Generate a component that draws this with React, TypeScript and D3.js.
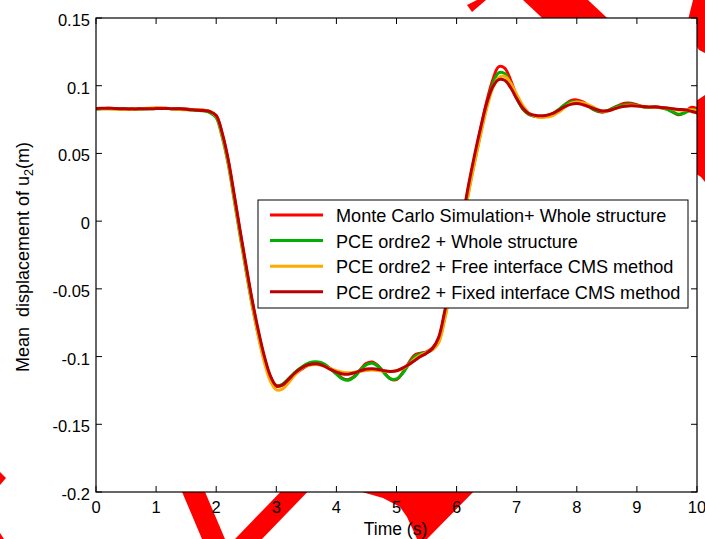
import React from 'react';
import * as d3 from 'd3';

const time = [
  0.0, 0.1, 0.2, 0.3, 0.4, 0.5, 0.6, 0.7, 0.8, 0.9,
  1.0, 1.1, 1.2, 1.3, 1.4, 1.5, 1.6, 1.7, 1.8, 1.9,
  2.0, 2.1, 2.2, 2.3, 2.4, 2.5, 2.6, 2.7, 2.8, 2.9,
  3.0, 3.1, 3.2, 3.3, 3.4, 3.5, 3.6, 3.7, 3.8, 3.9,
  4.0, 4.1, 4.2, 4.3, 4.4, 4.5, 4.6, 4.7, 4.8, 4.9,
  5.0, 5.1, 5.2, 5.3, 5.4, 5.5, 5.6, 5.7, 5.8, 5.9,
  6.0, 6.1, 6.2, 6.3, 6.4, 6.5, 6.6, 6.7, 6.8, 6.9,
  7.0, 7.1, 7.2, 7.3, 7.4, 7.5, 7.6, 7.7, 7.8, 7.9,
  8.0, 8.1, 8.2, 8.3, 8.4, 8.5, 8.6, 8.7, 8.8, 8.9,
  9.0, 9.1, 9.2, 9.3, 9.4, 9.5, 9.6, 9.7, 9.8, 9.9,
  10.0,
];

const monteCarlo = [
  0.0830, 0.0831, 0.0833, 0.0832, 0.0830, 0.0828, 0.0828, 0.0829, 0.0830, 0.0831,
  0.0833, 0.0834, 0.0832, 0.0830, 0.0830, 0.0828, 0.0824, 0.0823, 0.0819, 0.0809,
  0.0778, 0.0642, 0.0442, 0.0180, -0.0090, -0.0350, -0.0600, -0.0820, -0.1010, -0.1150,
  -0.1220, -0.1210, -0.1170, -0.1130, -0.1100, -0.1070, -0.1055, -0.1050, -0.1060, -0.1090,
  -0.1125, -0.1160, -0.1170, -0.1145, -0.1095, -0.1050, -0.1040, -0.1070, -0.1120, -0.1165,
  -0.1170, -0.1120, -0.1050, -0.0990, -0.0975, -0.0965, -0.0935, -0.0870, -0.0690, -0.0470,
  -0.0240, 0.0000, 0.0250, 0.0470, 0.0680, 0.0880, 0.1040, 0.1140, 0.1130, 0.1040,
  0.0920, 0.0830, 0.0790, 0.0775, 0.0770, 0.0775, 0.0790, 0.0820, 0.0860, 0.0890,
  0.0895, 0.0880, 0.0850, 0.0820, 0.0805, 0.0810, 0.0835, 0.0855, 0.0870, 0.0870,
  0.0860, 0.0845, 0.0840, 0.0845, 0.0840, 0.0830, 0.0805, 0.0785, 0.0805, 0.0840,
  0.0830,
];

const pceWhole = [
  0.0828, 0.0829, 0.0830, 0.0830, 0.0829, 0.0828, 0.0827, 0.0828, 0.0829, 0.0830,
  0.0831, 0.0832, 0.0831, 0.0829, 0.0828, 0.0825, 0.0820, 0.0818, 0.0813, 0.0800,
  0.0765, 0.0620, 0.0420, 0.0155, -0.0115, -0.0375, -0.0625, -0.0840, -0.1025, -0.1160,
  -0.1215, -0.1205, -0.1165, -0.1120, -0.1085, -0.1055, -0.1040, -0.1040, -0.1055, -0.1090,
  -0.1130, -0.1165, -0.1175, -0.1150, -0.1100, -0.1060, -0.1050, -0.1075, -0.1125, -0.1165,
  -0.1165, -0.1125, -0.1060, -0.1000, -0.0980, -0.0970, -0.0945, -0.0890, -0.0720, -0.0500,
  -0.0270, -0.0030, 0.0220, 0.0440, 0.0650, 0.0850, 0.1010, 0.1095, 0.1090, 0.1010,
  0.0905, 0.0830, 0.0790, 0.0775, 0.0772, 0.0778, 0.0795, 0.0825, 0.0860, 0.0880,
  0.0880, 0.0870, 0.0845, 0.0820, 0.0810, 0.0815, 0.0835, 0.0850, 0.0860, 0.0862,
  0.0855, 0.0845, 0.0840, 0.0842, 0.0838, 0.0825, 0.0805, 0.0790, 0.0800, 0.0820,
  0.0825,
];

const pceFree = [
  0.0830, 0.0830, 0.0830, 0.0828, 0.0826, 0.0824, 0.0825, 0.0828, 0.0832, 0.0836,
  0.0838, 0.0836, 0.0832, 0.0828, 0.0824, 0.0822, 0.0822, 0.0822, 0.0818, 0.0808,
  0.0775, 0.0635, 0.0435, 0.0170, -0.0100, -0.0365, -0.0620, -0.0845, -0.1040, -0.1180,
  -0.1245, -0.1240, -0.1195, -0.1140, -0.1095, -0.1070, -0.1060, -0.1060, -0.1070, -0.1090,
  -0.1105, -0.1115, -0.1120, -0.1115, -0.1108, -0.1102, -0.1100, -0.1102, -0.1108, -0.1110,
  -0.1105, -0.1090, -0.1060, -0.1020, -0.0990, -0.0970, -0.0950, -0.0900, -0.0730, -0.0510,
  -0.0280, -0.0040, 0.0210, 0.0430, 0.0640, 0.0830, 0.0980, 0.1060, 0.1070, 0.1020,
  0.0935, 0.0855, 0.0800, 0.0775, 0.0765, 0.0768, 0.0780, 0.0805, 0.0840, 0.0870,
  0.0880, 0.0875, 0.0858, 0.0835, 0.0815, 0.0812, 0.0825, 0.0840, 0.0850, 0.0855,
  0.0852, 0.0848, 0.0842, 0.0840, 0.0838, 0.0835, 0.0828, 0.0820, 0.0820, 0.0822,
  0.0815,
];

const pceFixed = [
  0.0832, 0.0834, 0.0834, 0.0832, 0.0830, 0.0829, 0.0829, 0.0829, 0.0830, 0.0830,
  0.0831, 0.0832, 0.0831, 0.0830, 0.0829, 0.0826, 0.0822, 0.0818, 0.0817, 0.0808,
  0.0780, 0.0650, 0.0455, 0.0195, -0.0075, -0.0335, -0.0585, -0.0805, -0.0995, -0.1140,
  -0.1215, -0.1210, -0.1170, -0.1125, -0.1090, -0.1065, -0.1055, -0.1055, -0.1070, -0.1095,
  -0.1115, -0.1128, -0.1130, -0.1120, -0.1105, -0.1092, -0.1090, -0.1095, -0.1105, -0.1110,
  -0.1105, -0.1085, -0.1060, -0.1030, -0.1000, -0.0975, -0.0940, -0.0860, -0.0670, -0.0450,
  -0.0220, 0.0020, 0.0270, 0.0490, 0.0690, 0.0870, 0.0990, 0.1045, 0.1040, 0.0985,
  0.0905, 0.0835, 0.0795, 0.0782, 0.0778, 0.0782, 0.0795, 0.0820, 0.0845, 0.0862,
  0.0868, 0.0860, 0.0845, 0.0828, 0.0815, 0.0815, 0.0825, 0.0840, 0.0848, 0.0852,
  0.0850, 0.0846, 0.0843, 0.0842, 0.0840, 0.0836, 0.0830, 0.0825, 0.0822, 0.0812,
  0.0800,
];

const seriesNames = [
  'Monte Carlo Simulation+ Whole structure',
  'PCE ordre2 + Whole structure',
  'PCE ordre2 + Free interface CMS method',
  'PCE ordre2 + Fixed interface CMS method',
];
const seriesValues = [monteCarlo, pceWhole, pceFree, pceFixed];
const seriesColors = ['#ff0000', '#00b000', '#ffaa00', '#bb0000'];

const xTicks = [0, 1, 2, 3, 4, 5, 6, 7, 8, 9, 10];
const yTicks = [0.15, 0.1, 0.05, 0, -0.05, -0.1, -0.15, -0.2];
const yTickLabels = ['0.15', '0.1', '0.05', '0', '-0.05', '-0.1', '-0.15', '-0.2'];

// decorative red strokes that sit behind the axes in the picture
const overlayShapes: [number, number][][] = [
  [[467, 5], [472, 12], [486, 0], [477, 0]],
  [[523, 0], [588, 0], [620, 30], [555, 30]],
  [[693, 0], [705, 0], [705, 53], [699, 50], [686, 28]],
  [[690, 105], [705, 95], [705, 182], [701, 177], [690, 170]],
  [[177, 480], [200, 480], [225, 539], [202, 539]],
  [[292, 480], [319, 480], [262, 539], [235, 539]],
  [[350, 485], [485, 480], [427, 539], [417, 539], [413, 530], [407, 517], [400, 507], [383, 498], [362, 492]],
  [[0, 472], [6, 478], [0, 485]],
  [[0, 533], [4, 539], [0, 539]],
];

const W = 705;
const H = 539;
const plot = { left: 96, right: 697, top: 18, bottom: 492 };
const FONT = '"Liberation Sans", Arial, Helvetica, sans-serif';

export default function App() {
  const x = d3.scaleLinear().domain([0, 10]).range([plot.left, plot.right]);
  const y = d3.scaleLinear().domain([-0.2, 0.15]).range([plot.bottom, plot.top]);
  const line = d3
    .line<number>()
    .x((_, i) => x(time[i]))
    .y((d) => y(d))
    .curve(d3.curveCatmullRom.alpha(0.5));

  const tickLen = 6;
  const legend = { left: 258, right: 688, top: 200, bottom: 308 };
  const legendRow0 = 215;
  const legendStep = 25.6;

  return (
    <svg
      width={W}
      height={H}
      viewBox={`0 0 ${W} ${H}`}
      style={{ position: 'absolute', left: 0, top: 0, background: '#fff' }}
      fontFamily={FONT}
    >
      <rect x={0} y={0} width={W} height={H} fill="#fff" />
      {overlayShapes.map((pts, i) => (
        <polygon key={i} points={pts.map((p) => p.join(',')).join(' ')} fill="#ff0000" />
      ))}
      <rect
        x={plot.left}
        y={plot.top}
        width={plot.right - plot.left}
        height={plot.bottom - plot.top}
        fill="#fff"
      />
      <defs>
        <clipPath id="plotclip">
          <rect
            x={plot.left}
            y={plot.top}
            width={plot.right - plot.left}
            height={plot.bottom - plot.top}
          />
        </clipPath>
      </defs>
      <g clipPath="url(#plotclip)">
        {seriesValues.map((vals, i) => (
          <path
            key={i}
            d={line(vals) || ''}
            fill="none"
            stroke={seriesColors[i]}
            strokeWidth={3}
            strokeLinejoin="round"
            strokeLinecap="round"
          />
        ))}
      </g>
      {/* ticks */}
      <g stroke="#000" strokeWidth={1}>
        {xTicks.map((t) => (
          <g key={'xt' + t}>
            <line x1={x(t)} x2={x(t)} y1={plot.bottom} y2={plot.bottom - tickLen} />
            <line x1={x(t)} x2={x(t)} y1={plot.top} y2={plot.top + tickLen} />
          </g>
        ))}
        {yTicks.map((t) => (
          <g key={'yt' + t}>
            <line x1={plot.left} x2={plot.left + tickLen} y1={y(t)} y2={y(t)} />
            <line x1={plot.right} x2={plot.right - tickLen} y1={y(t)} y2={y(t)} />
          </g>
        ))}
      </g>
      <rect
        x={plot.left}
        y={plot.top}
        width={plot.right - plot.left}
        height={plot.bottom - plot.top}
        fill="none"
        stroke="#000"
        strokeWidth={1.2}
      />
      {/* tick labels */}
      <g fontSize={16.5} fill="#000">
        {xTicks.map((t) => (
          <text key={'xl' + t} x={x(t)} y={plot.bottom + 21} textAnchor="middle">
            {String(t)}
          </text>
        ))}
        {yTicks.map((t, i) => (
          <text key={'yl' + t} x={plot.left - 6} y={y(t) + 8} textAnchor="end">
            {yTickLabels[i]}
          </text>
        ))}
      </g>
      {/* axis titles */}
      <text x={(plot.left + plot.right) / 2 - 1} y={535} textAnchor="middle" fontSize={17.5} fill="#000">
        Time (s)
      </text>
      <text
        transform={`translate(28.5, ${(plot.top + plot.bottom) / 2 + 2}) rotate(-90)`}
        textAnchor="middle"
        fontSize={18}
        fill="#000"
        xmlSpace="preserve"
      >
        Mean  displacement of u
        <tspan fontSize={12.5} dy={4}>2</tspan>
        <tspan dy={-4}>(m)</tspan>
      </text>
      {/* legend */}
      <rect
        x={legend.left}
        y={legend.top}
        width={legend.right - legend.left}
        height={legend.bottom - legend.top}
        fill="#fff"
        stroke="#000"
        strokeWidth={1}
      />
      {seriesNames.map((name, i) => {
        const cy = legendRow0 + i * legendStep;
        return (
          <g key={name}>
            <line x1={270} x2={323} y1={cy} y2={cy} stroke={seriesColors[i]} strokeWidth={3} />
            <text x={336} y={cy + 7} fontSize={18.1} fill="#000" xmlSpace="preserve">
              {name}
            </text>
          </g>
        );
      })}
    </svg>
  );
}
